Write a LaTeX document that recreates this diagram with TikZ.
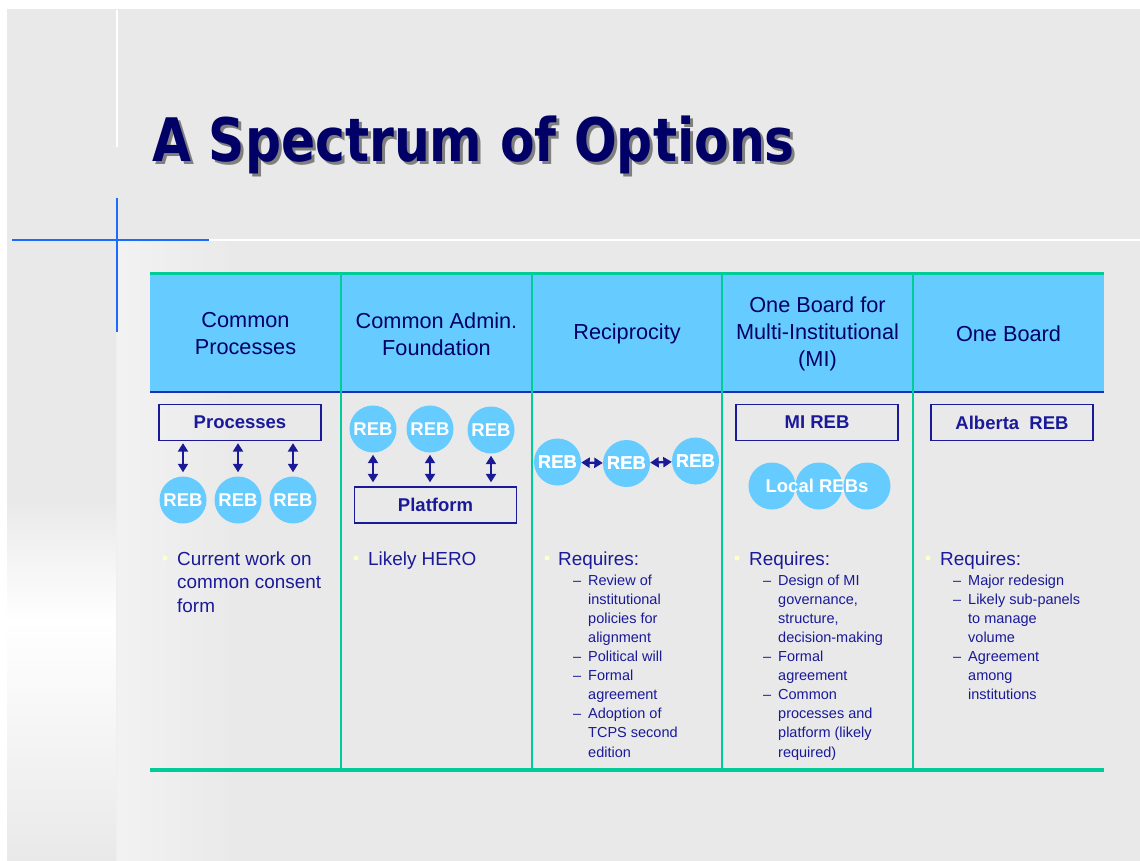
\documentclass[tikz,border=0pt]{standalone}
\usepackage{fontspec}
\setmainfont{Liberation Sans}
\newfontfamily\titlefont{DejaVu Sans}
\usetikzlibrary{arrows.meta}

\definecolor{slidegray}{HTML}{E9E9E9}
\definecolor{headblue}{HTML}{66CCFF}
\definecolor{rulegreen}{HTML}{00CC99}
\definecolor{rulenavy}{HTML}{1F2FAF}
\definecolor{navy}{HTML}{000066}
\definecolor{bodyblue}{HTML}{1A1A99}
\definecolor{crossblue}{HTML}{1A6BFF}
\definecolor{bulletyellow}{HTML}{FFFFCC}

\tikzset{
  reb/.style={circle, fill=headblue, minimum size=47pt, inner sep=0pt,
    text=white, font=\fontsize{18.5}{20}\selectfont\bfseries},
  labelbox/.style={draw=bodyblue, line width=1.3pt, minimum width=162pt,
    minimum height=36pt, inner sep=0pt, text=bodyblue,
    font=\fontsize{18.5}{20}\selectfont\bfseries},
  twoway/.style={{Triangle[length=8.5pt,width=10pt]}-{Triangle[length=8.5pt,width=10pt]},
    line width=2.4pt, draw=bodyblue},
  colhead/.style={align=center, text=navy, font=\fontsize{21.7}{27}\selectfont},
  bulletdot/.style={circle, fill=bulletyellow, inner sep=0pt, minimum size=5pt},
  % base of a multi-line node is the baseline of its last line
  bullettext/.style={anchor=base west, align=left, inner sep=0pt, text=bodyblue,
    font=\fontsize{18.9}{23.5}\selectfont},
  subtext/.style={anchor=base west, align=left, inner sep=0pt, text=bodyblue,
    font=\fontsize{14.5}{19.1}\selectfont},
}
\newcommand{\subdash}{\makebox[15pt][l]{--}}
\newcommand{\subcont}{\hspace*{15pt}}

\begin{document}
\begin{tikzpicture}[x=1pt, y=-1pt]
\useasboundingbox (0,0) rectangle (1140,861);
% Slide background
\fill[white] (0,0) rectangle (1140,861);
\fill[slidegray] (7,9) rectangle (1140,861);
\shade[top color=slidegray, bottom color=white] (7,500) rectangle (116,620);
\shade[top color=white, bottom color=slidegray] (7,620) rectangle (116,861);
\shade[left color=white!95!black, right color=slidegray] (118,241) rectangle (235,861);
\draw[white!94!black, line width=2pt] (117,332) -- (117,861);
% Corner cross
\draw[white, line width=2pt] (117,10) -- (117,147);
\draw[white, line width=2.5pt] (209,240) -- (1140,240);
\draw[crossblue, line width=2pt] (12,240) -- (209,240);
\draw[crossblue, line width=2pt] (117,198) -- (117,332);

% Title with shadow
\node[anchor=base west, inner sep=0pt, xscale=0.84, text=black, opacity=0.45,
  font=\titlefont\fontsize{60}{60}\selectfont\bfseries] (titleshadow) at (155,165)
  {A Spectrum of Options};
\node[anchor=base west, inner sep=0pt, xscale=0.84, text=navy,
  font=\titlefont\fontsize{60}{60}\selectfont\bfseries] (title) at (152,162)
  {A Spectrum of Options};

% Table frame
\fill[headblue] (150,274) rectangle (1104,392);
\draw[rulegreen, line width=3pt] (150,273) -- (1104,273);
\draw[rulenavy, line width=2pt] (150,392) -- (1104,392);
\foreach \x in {341,532,722,913}
  \draw[rulegreen, line width=1.3pt] (\x,274) -- (\x,770);
\draw[rulegreen, line width=4pt] (150,770) -- (1104,770);

% Column headings
\node[colhead] (h1) at (245.5,334) {Common\\Processes};
\node[colhead] (h2) at (436.5,334) {Common Admin.\\Foundation};
\node[colhead] (h3) at (627,334) {Reciprocity};
\node[colhead] (h4) at (817.5,334) {One Board for\\Multi-Institutional\\(MI)};
\node[colhead] (h5) at (1008.5,334) {One Board};

% Common processes
\node[labelbox] (proc) at (240,422.5) {Processes};
\node[reb] (r11) at (183,500) {REB};
\node[reb] (r12) at (238,500) {REB};
\node[reb] (r13) at (293,500) {REB};
\foreach \r in {r11,r12,r13}
  \draw[twoway, shorten <=2pt, shorten >=4pt] (proc.south -| \r) -- (\r.north);

% Common admin. foundation
\node[reb] (r21) at (373,429) {REB};
\node[reb] (r22) at (430,429) {REB};
\node[reb] (r23) at (491,430) {REB};
\node[labelbox] (platform) at (435.5,505) {Platform};
\foreach \r in {r21,r22,r23}
  \draw[twoway, shorten <=2pt, shorten >=4pt] (\r.south) -- (\r.south |- platform.north);

% Reciprocity
\node[reb] (r31) at (557.5,462) {REB};
\node[reb] (r32) at (626.5,463.5) {REB};
\node[reb] (r33) at (695.5,461) {REB};
\draw[twoway] (r31) -- (r32);
\draw[twoway] (r32) -- (r33);
\node[reb, fill=none] at (r31) {REB};
\node[reb, fill=none] at (r32) {REB};
\node[reb, fill=none] at (r33) {REB};

% One board for MI
\node[labelbox] (mireb) at (817,422.5) {MI REB};
\node[reb] (l41) at (772,486) {};
\node[reb] (l42) at (819,486) {};
\node[reb] (l43) at (867,486) {};
\node[reb, fill=none] (localtext) at (817,486) {Local REBs};

% One board
\node[labelbox] (albreb) at (1012,422.5) {Alberta\ \ REB};

% Bullets
\node[bulletdot] (d1) at (165,558) {};
\node[bullettext] (t1) at (177,612) {Current work on\\common consent\\form};
\node[bulletdot] (d2) at (356,558) {};
\node[bullettext] (t2) at (368,565) {Likely HERO};

\node[bulletdot] (d3) at (547,558) {};
\node[bullettext] (t3) at (558,565) {Requires:};
\node[subtext] (s3) at (573,757) {\subdash Review of\\
  \subcont institutional\\ \subcont policies for\\ \subcont alignment\\
  \subdash Political will\\ \subdash Formal\\ \subcont agreement\\
  \subdash Adoption of\\ \subcont TCPS second\\ \subcont edition};

\node[bulletdot] (d4) at (737,558) {};
\node[bullettext] (t4) at (749,565) {Requires:};
\node[subtext] (s4) at (763,757) {\subdash Design of MI\\
  \subcont governance,\\ \subcont structure,\\ \subcont decision-making\\
  \subdash Formal\\ \subcont agreement\\ \subdash Common\\
  \subcont processes and\\ \subcont platform (likely\\ \subcont required)};

\node[bulletdot] (d5) at (928,558) {};
\node[bullettext] (t5) at (940,565) {Requires:};
\node[subtext] (s5) at (953,699.6) {\subdash Major redesign\\
  \subdash Likely sub-panels\\ \subcont to manage\\ \subcont volume\\
  \subdash Agreement\\ \subcont among\\ \subcont institutions};
\end{tikzpicture}
\end{document}
